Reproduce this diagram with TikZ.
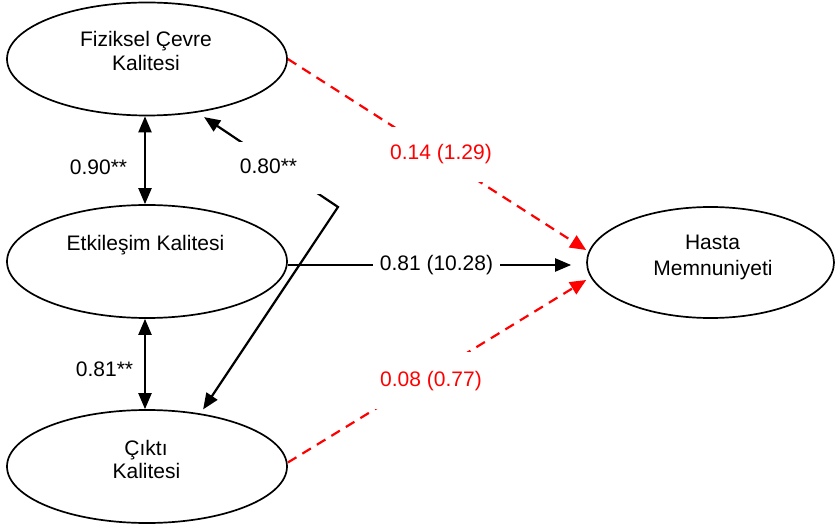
\documentclass[tikz,border=0pt]{standalone}
\usepackage{fontspec}
\setmainfont{Liberation Sans}
\usetikzlibrary{arrows.meta,calc,shapes.geometric}
\begin{document}
\begin{tikzpicture}[x=1pt,y=-1pt,
  ell/.style={draw, ellipse, line width=1.7pt, minimum width=280pt, minimum height=113pt, inner sep=0pt},
  txt/.style={anchor=base, font=\fontsize{21}{25}\selectfont, inner sep=0pt},
  tip/.style={},
  arr/.style={line width=2.2pt, -{Triangle[length=16pt,width=13pt]}},
  dbl/.style={line width=2.2pt, {Triangle[length=16pt,width=13pt]}-{Triangle[length=16pt,width=13pt]}},
  rarr/.style={red, line width=2.2pt, dash pattern=on 10pt off 7pt, -{Triangle[length=16pt,width=14pt]}},
  gapbox/.style={fill=white, font=\fontsize{21}{25}\selectfont, text height=15pt, text depth=4pt, inner sep=0pt}
]
\useasboundingbox (0,0) rectangle (835,526);

% ellipses
\node[ell] (e1) at (147,59) {};
\node[ell] (e2) at (147,261.5) {};
\node[ell] (e3) at (147,466.5) {};
\node[ell, minimum width=247pt, minimum height=111pt] (e4) at (710.5,262.5) {};

% ellipse texts
\node[txt] (t1a) at (146,47) {Fiziksel Çevre};
\node[txt] (t1b) at (146,71) {Kalitesi};
\node[txt] (t2) at (145.5,251) {Etkileşim Kalitesi};
\node[txt] (t3a) at (146,455) {Çıktı};
\node[txt] (t3b) at (146.5,478) {Kalitesi};
\node[txt] (t4a) at (712.5,250) {Hasta};
\node[txt] (t4b) at (713,276) {Memnuniyeti};

% correlations
\draw[dbl] ([xshift=-2pt]e1.south) -- ([xshift=-2pt]e2.north);
\draw[dbl] ([xshift=-2pt]e2.south) -- ([xshift=-2pt]e3.north);
\coordinate (c80) at (338,207);
\draw[dbl, line join=miter]
  ([xshift=4pt,yshift=-5pt]e1.-45) -- (c80) -- ([xshift=3pt,yshift=4pt]e3.45);

% paths
\draw[rarr] (e1.east) -- ([yshift=12.5pt]e4.west);
\draw[rarr] ([yshift=4pt]e3.east) -- ([yshift=-17.5pt]e4.west);
\draw[arr] ([yshift=-3.5pt]e2.east) -- ([xshift=-15pt,yshift=-2.5pt]e4.west);

% labels
\node[txt] (l90) at (98.5,175) {0.90**};
\node[txt] (l81) at (104.5,377) {0.81**};
\node[gapbox, minimum width=104pt, minimum height=52pt] (l80) at (268.5,168.5) {0.80**};
\node[gapbox, text=red, minimum width=104pt, minimum height=55pt] (l14) at (441,154.5) {0.14 (1.29)};
\node[gapbox, text=red, minimum width=116pt, minimum height=57pt] (l08) at (431,380.5) {0.08 (0.77)};
\node[gapbox, minimum width=127pt, minimum height=20pt] (l8110) at (436.5,265.5) {0.81 (10.28)};
\end{tikzpicture}
\end{document}
